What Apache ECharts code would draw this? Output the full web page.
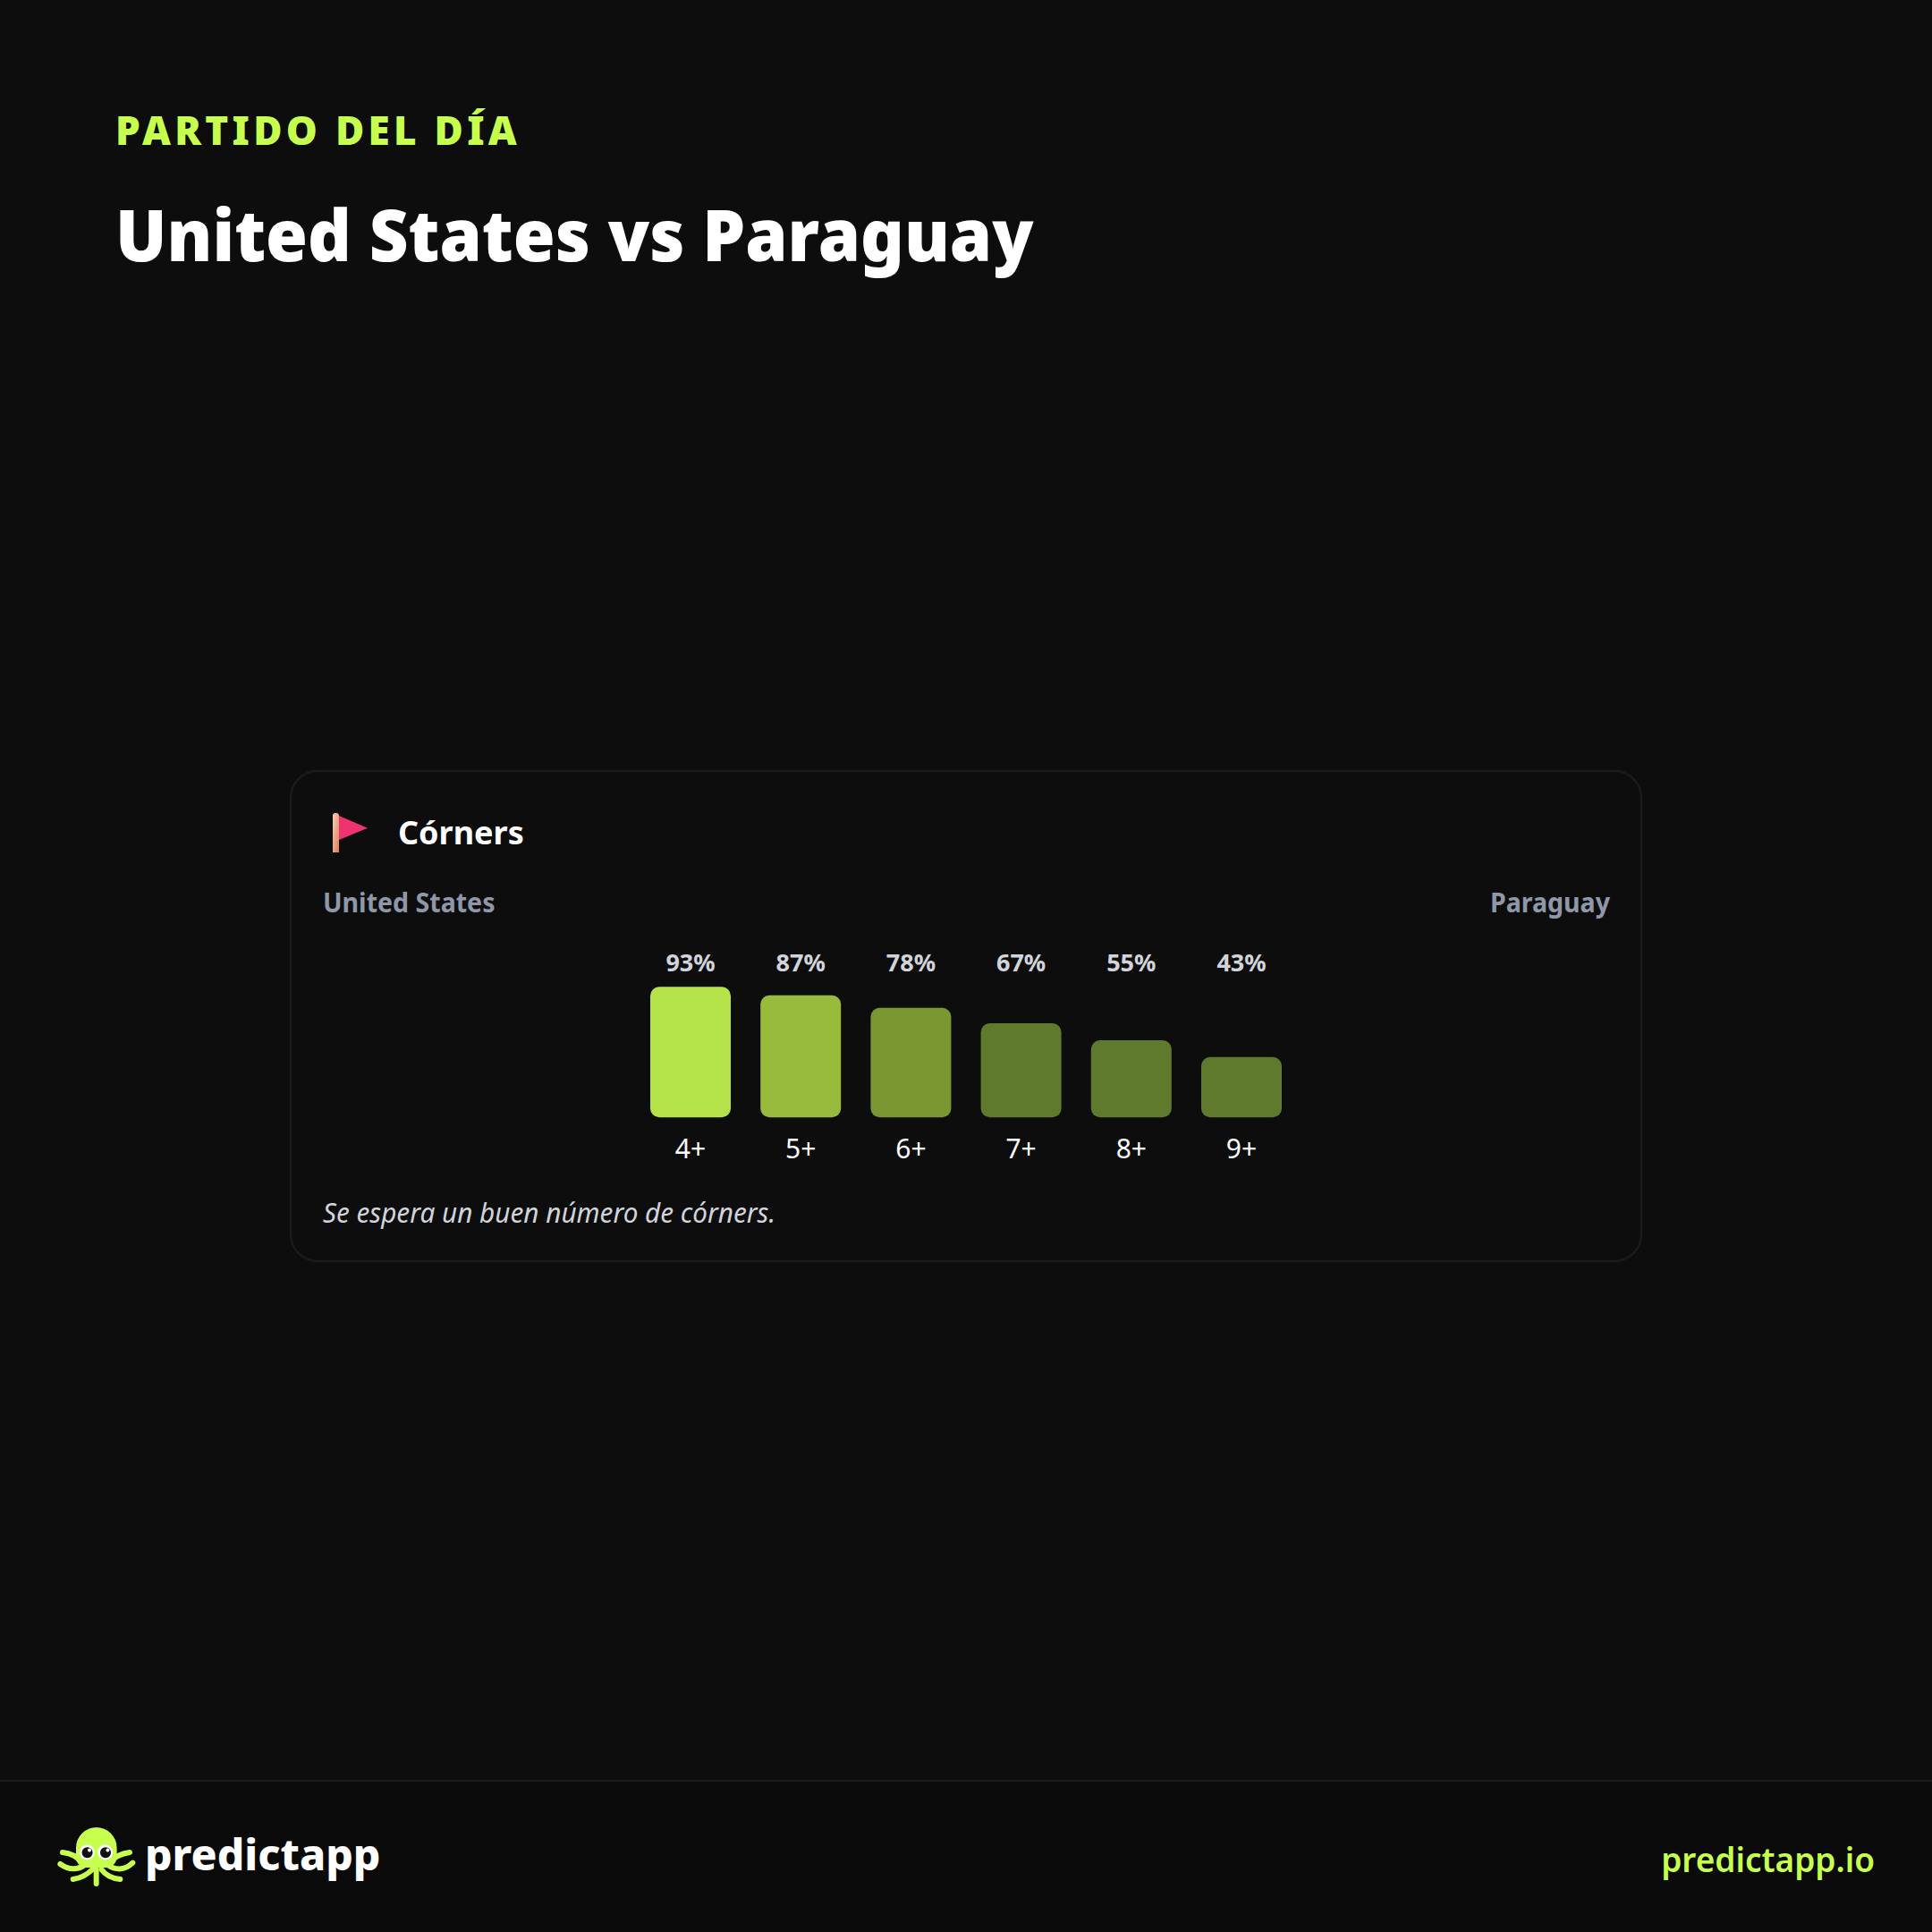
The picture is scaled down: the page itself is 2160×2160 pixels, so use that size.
<!DOCTYPE html>
<html><head><meta charset="utf-8">
<style>html,body{margin:0;padding:0;background:#0d0d0d}#c{width:2160px;height:2160px}</style>
<script src="https://cdn.jsdelivr.net/npm/echarts@6/dist/echarts.min.js"></script>
</head><body><div id="c"></div>
<script>
const categories = ['4+','5+','6+','7+','8+','9+'];
const values = [93,87,78,67,55,43];
const barColors = ['#B3E348','#98BB3E','#7A9732','#5F7A2D','#5F7A2D','#5F7A2D'];
const eyebrow = 'PARTIDO DEL DÍA';
const heading = 'United States vs Paraguay';
const cardTitle = 'Córners';
const homeTeam = 'United States';
const awayTeam = 'Paraguay';
const note = 'Se espera un buen número de córners.';
const brand = 'predictapp';
const site = 'predictapp.io';
const FF = '"Noto Sans","Open Sans",sans-serif';
const LIME = '#C6FF4D';

function txt(text,x,y,size,weight,fill,extra,sx){
  return {type:'text',silent:true,x,y,scaleX:sx||1,style:Object.assign({text,x:0,y:0,fontSize:size,fontWeight:weight,fontFamily:FF,fill,align:'left',verticalAlign:'middle'},extra||{})};
}
function ten(points){
  return {type:'polyline',silent:true,shape:{points,smooth:0.5},style:{stroke:LIME,lineWidth:6,lineCap:'round',lineJoin:'round',fill:'none'}};
}
const ox=40, oy=1970, s=1/3;
const P=(a,b)=>[ox+a*s,oy+b*s];
const chart = echarts.init(document.getElementById('c'),null,{renderer:'svg',width:2160,height:2160});
chart.setOption({
  animation:false,
  backgroundColor:'#0d0d0d',
  grid:{left:710.4,top:1092.3,width:739.2,height:157,containLabel:false},
  xAxis:[
    {type:'category',data:categories,position:'bottom',axisLine:{show:false},axisTick:{show:false},
     axisLabel:{color:'#ffffff',fontSize:30,fontFamily:FF,margin:19}},
    {type:'category',data:values.map(v=>v+'%'),position:'top',axisLine:{show:false},axisTick:{show:false},
     axisLabel:{color:'#d1d5db',fontSize:27,fontWeight:700,fontFamily:FF,margin:3}}
  ],
  yAxis:{type:'value',min:0,max:100,show:false,splitLine:{show:false}},
  series:[{type:'bar',barWidth:90,silent:true,xAxisIndex:0,
    data:values.map((v,i)=>({value:v,itemStyle:{color:barColors[i],borderRadius:10}}))}],
  graphic:{elements:[
    {type:'rect',z:-10,silent:true,shape:{x:0,y:1990,width:2160,height:170},style:{fill:'#0a0a0a'}},
    {type:'line',z:-9,silent:true,shape:{x1:0,y1:1991,x2:2160,y2:1991},style:{stroke:'#1a1a1a',lineWidth:2}},
    {type:'rect',z:-9,silent:true,shape:{x:325,y:862,width:1510,height:548,r:30},style:{fill:'#0d0d0d',stroke:'#1b1b1b',lineWidth:2.5}},
    txt(eyebrow,129,145,44,900,LIME),
    txt(heading,129,261,80,900,'#ffffff',null,0.95),
    // flag
    {type:'polygon',silent:true,shape:{points:[[379,912],[411,925.7],[379,939]]},style:{fill:'#EF3371'}},
    {type:'rect',silent:true,shape:{x:372,y:909,width:7,height:44,r:[3,3,0,0]},
      style:{fill:new echarts.graphic.LinearGradient(0,0,1,1,[{offset:0,color:'#FAD0B4'},{offset:1,color:'#D9805A'}])}},
    txt(cardTitle,445,930,36,700,'#ffffff'),
    txt(homeTeam,361,1009,30,700,'#8f98a8',null,0.952),
    txt(awayTeam,1800,1009,30,700,'#8f98a8',{align:'right'},0.952),
    txt(note,361,1355,30,400,'#d1d5db',{fontStyle:'italic'},0.99),
    // logo
    ten([P(90,303),P(130,315),P(150,335)]),
    ten([P(82,342),P(125,358),P(165,345)]),
    ten([P(125,393),P(160,382),P(190,360)]),
    ten([P(203,360),P(203,408)]),
    ten([P(220,360),P(245,382),P(283,393)]),
    ten([P(240,345),P(285,358),P(325,338)]),
    ten([P(250,335),P(275,315),P(315,303)]),
    {type:'rect',silent:true,shape:{x:85,y:2043,width:45.6,height:45,r:[23,23,12,12]},style:{fill:LIME}},
    {type:'circle',silent:true,shape:{cx:97.3,cy:2071,r:8.5},style:{fill:'#ffffff'}},
    {type:'circle',silent:true,shape:{cx:117.7,cy:2071,r:8.5},style:{fill:'#ffffff'}},
    {type:'circle',silent:true,shape:{cx:97.6,cy:2071.3,r:6},style:{fill:'#101010'}},
    {type:'circle',silent:true,shape:{cx:118,cy:2071.3,r:6},style:{fill:'#101010'}},
    {type:'circle',silent:true,shape:{cx:100,cy:2068.5,r:2},style:{fill:'#ffffff'}},
    {type:'circle',silent:true,shape:{cx:120.4,cy:2068.5,r:2},style:{fill:'#ffffff'}},
    txt(brand,162,2072,48,800,'#ffffff'),
    txt(site,2096,2078,37,600,LIME,{align:'right'})
  ]}
});
document.querySelectorAll('#c text').forEach(t=>{ if(t.textContent===eyebrow) t.style.letterSpacing='4.3px'; });
</script></body></html>
